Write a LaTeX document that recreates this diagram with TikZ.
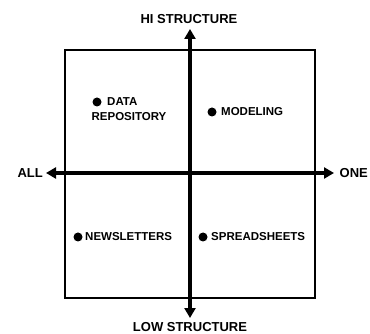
\documentclass[tikz,border=0pt]{standalone}
\usepackage{fontspec}
\setmainfont{Liberation Sans}
\usetikzlibrary{arrows.meta}
\begin{document}
\begin{tikzpicture}[x=1pt,y=-1pt,
  axislbl/.style={font=\fontsize{13}{13}\selectfont\bfseries, inner sep=0pt},
  itemlbl/.style={font=\fontsize{11.5}{13}\selectfont\bfseries, inner sep=0pt},
  dot/.style={circle, fill=black, minimum size=9pt, inner sep=0pt},
  axisline/.style={line width=3.8pt, -{Triangle[length=10pt,width=11pt]}},
  boxline/.style={line width=2.8pt}]
\useasboundingbox (0,0) rectangle (370,334);
\fill[white] (0,0) rectangle (370,334);
% box
\node[draw, boxline, minimum width=250pt, minimum height=248pt, inner sep=0pt] (box) at (190,174) {};
% axes endpoints
\coordinate (c) at (190,173);
\coordinate (top) at (190,29);
\coordinate (bot) at (190,318);
\coordinate (lft) at (46,173);
\coordinate (rgt) at (334,173);
\draw[axisline] (c) -- (top);
\draw[axisline] (c) -- (bot);
\draw[axisline] (c) -- (lft);
\draw[axisline] (c) -- (rgt);
% axis labels
\node[axislbl] (hi) at (189,19) {HI STRUCTURE};
\node[axislbl] (low) at (190,327) {LOW STRUCTURE};
\node[axislbl, anchor=east] (all) at (43,173) {ALL};
\node[axislbl, anchor=west] (one) at (339.5,173) {ONE};
% items
\node[dot] (d1) at (97,102) {};
\node[itemlbl, anchor=west] (data) at (107,102) {DATA};
\node[itemlbl] (repo) at (129,117) {REPOSITORY};
\node[dot] (d2) at (212,112) {};
\node[itemlbl, anchor=west] (model) at (221,112) {MODELING};
\node[dot] (d3) at (78,237) {};
\node[itemlbl, anchor=west] (news) at (85,237) {NEWSLETTERS};
\node[dot] (d4) at (203,237) {};
\node[itemlbl, anchor=west] (spread) at (211,237) {SPREADSHEETS};
\end{tikzpicture}
\end{document}
